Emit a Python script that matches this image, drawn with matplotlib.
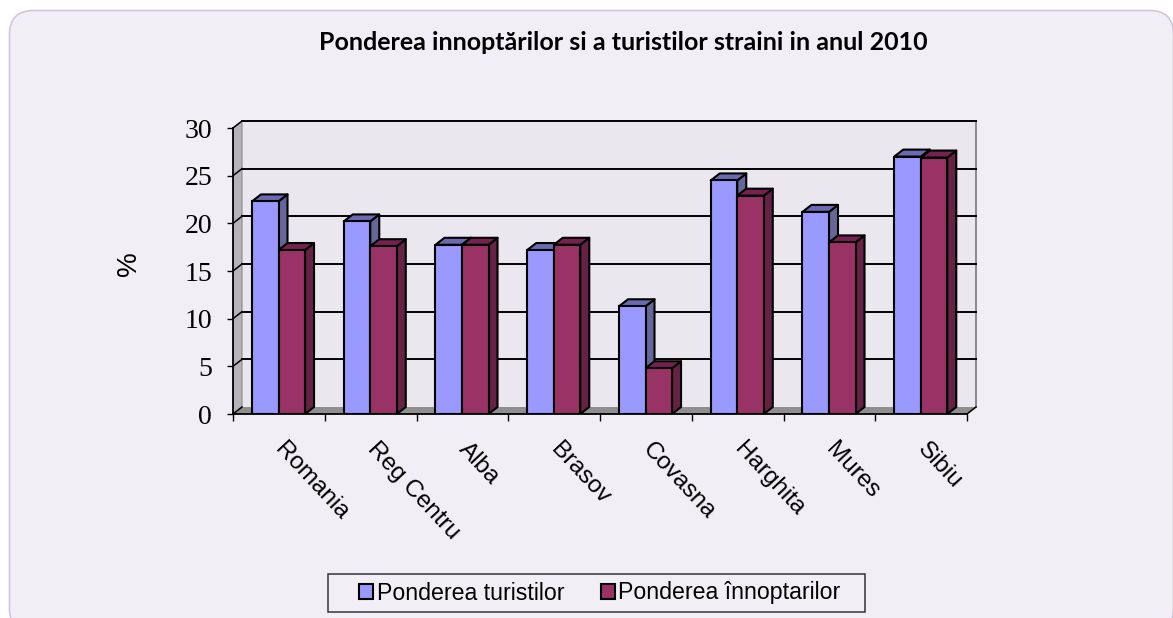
import matplotlib

matplotlib.use("Agg")
import matplotlib.pyplot as plt
from matplotlib.patches import FancyBboxPatch, Patch, Polygon, Rectangle

W, H = 1173, 618

categories = ["Romania", "Reg Centru", "Alba", "Brasov", "Covasna", "Harghita", "Mures", "Sibiu"]
turisti = [22.3, 20.2, 17.75, 17.2, 11.3, 24.5, 21.2, 27.0]
innoptari = [17.2, 17.6, 17.75, 17.75, 4.8, 22.9, 18.0, 26.9]
y_ticks = [0, 5, 10, 15, 20, 25, 30]

BLUE = ("#9999FF", "#666699", "#6A6AB0")
RED = ("#993366", "#662244", "#752250")

# 3d depth of the plot in data units (9 px right, 7 px up)
DX = 9 / 91.75
DY = 7 / 9.533
BAR_W = 0.289
BAR_LEFT = 0.207


def draw_bar(ax, x, value, colors):
    front, side, top = colors
    lw = 1.5
    ax.add_patch(Polygon([(x + BAR_W, 0), (x + BAR_W + DX, DY), (x + BAR_W + DX, value + DY), (x + BAR_W, value)],
                         facecolor=side, edgecolor="black", lw=lw, zorder=4, joinstyle="round"))
    ax.add_patch(Polygon([(x, value), (x + DX, value + DY), (x + BAR_W + DX, value + DY), (x + BAR_W, value)],
                         facecolor=top, edgecolor="black", lw=lw, zorder=4, joinstyle="round"))
    ax.bar(x, value, width=BAR_W, align="edge", color=front, edgecolor="black", linewidth=lw, zorder=5)


fig = plt.figure(figsize=(W / 100, H / 100), dpi=100, facecolor="white")

# rounded panel behind everything, in pixel coords
bg = fig.add_axes([0, 0, 1, 1])
bg.set_xlim(0, W)
bg.set_ylim(H, 0)
bg.axis("off")
bg.add_patch(FancyBboxPatch((9.5, 10.5), W - 9, H + 4, boxstyle="round,pad=0,rounding_size=24",
                            facecolor="#F1EFF5", edgecolor="#CFC6E0", lw=1.2))

# axes corners: front plane x 233, y 414; back wall top right 976, 121
ax = fig.add_axes([233 / W, 1 - 414 / H, (976 - 233) / W, (414 - 121) / H])
ax.patch.set_alpha(0)
ax.set_xlim(0, len(categories) + DX)
ax.set_ylim(0, 30 + DY)

n = len(categories)
ax.add_patch(Polygon([(DX, DY), (n + DX, DY), (n + DX, 30 + DY), (DX, 30 + DY)],
                     facecolor="#EBE7EE", edgecolor="none", zorder=1))
ax.add_patch(Polygon([(0, 0), (DX, DY), (DX, 30 + DY), (0, 30)],
                     facecolor="#B5B2BA", edgecolor="#8A8A8A", lw=0.8, zorder=1))
ax.add_patch(Polygon([(0, 0), (n, 0), (n + DX, DY), (DX, DY)],
                     facecolor="#8F8F8F", edgecolor="none", zorder=2))
ax.plot([n + DX, n + DX], [DY, 30 + DY], color="#808080", lw=1.3, zorder=2, clip_on=False)

for v in y_ticks:
    ax.plot([0, DX], [v, v + DY], color="black", lw=1.1, zorder=3, clip_on=False)
    if v > 0:
        ax.plot([DX, n + DX], [v + DY, v + DY], color="black", lw=1.4, zorder=3, clip_on=False)
ax.plot([n, n + DX], [0, DY], color="black", lw=1.1, zorder=3, clip_on=False)

for i in range(n):
    draw_bar(ax, i + BAR_LEFT, turisti[i], BLUE)
    draw_bar(ax, i + BAR_LEFT + BAR_W, innoptari[i], RED)

for s in ["top", "right"]:
    ax.spines[s].set_visible(False)
for s in ["left", "bottom"]:
    ax.spines[s].set_linewidth(1.3)
    ax.spines[s].set_zorder(6)
ax.spines["bottom"].set_bounds(0, n)
ax.spines["left"].set_bounds(0, 30)

ax.set_yticks(y_ticks)
ax.set_yticklabels(y_ticks, family="Liberation Serif", fontsize=20)
ax.tick_params(axis="y", length=4.5, width=1, pad=10.5)
ax.set_xticks(range(n + 1))
ax.set_xticklabels([])
ax.tick_params(axis="x", which="major", length=5, width=1)
ax.set_xticks([i + 0.5 for i in range(n)], minor=True)
ax.set_xticklabels(categories, minor=True, family="Liberation Sans", fontsize=17.5,
                   rotation=-47, ha="left", va="center", rotation_mode="anchor")
ax.tick_params(axis="x", which="minor", length=0, pad=23)

bg.text(129, 264, "%", rotation=90, ha="center", va="center", family="Liberation Sans", fontsize=20, color="black")
bg.text(623, 42, "Ponderea innoptărilor si a turistilor straini in anul 2010", ha="center", va="center",
        family="Lato", fontweight="bold", fontsize=18, color="black")

# legend frame is wider than the legend's own padding would give
bg.add_patch(Rectangle((328, 574), 537, 38, facecolor="none", edgecolor="#333333", lw=1.1))
handles = [
    Patch(facecolor=BLUE[0], edgecolor="black", lw=1.5, label="Ponderea turistilor"),
    Patch(facecolor=RED[0], edgecolor="black", lw=1.5, label="Ponderea înnoptarilor"),
]
bg.legend(handles=handles, ncol=2, loc="center", bbox_to_anchor=(600 / W, 1 - 593 / H),
          bbox_transform=fig.transFigure, prop={"family": "Liberation Sans", "size": 16.7},
          handlelength=0.6, handleheight=0.6, handletextpad=0.17, columnspacing=1.55,
          frameon=False, borderpad=0, borderaxespad=0)

fig.savefig("out.png", dpi=100)
plt.close(fig)
